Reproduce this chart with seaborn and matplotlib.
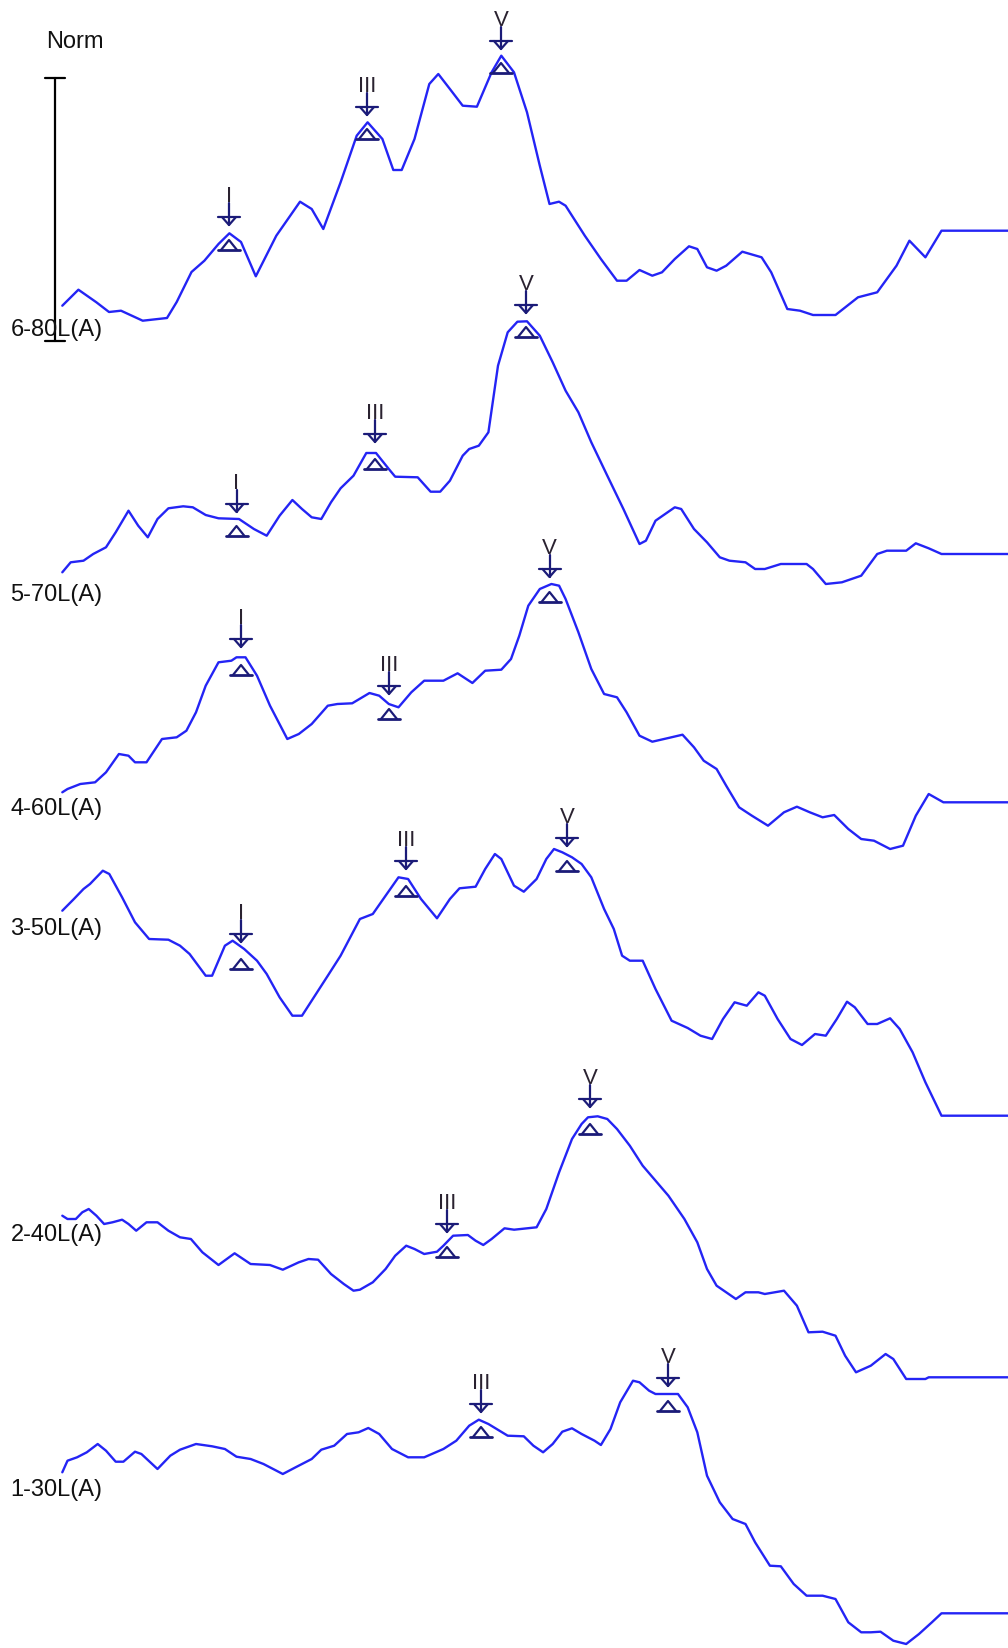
import matplotlib

matplotlib.use("Agg")
import matplotlib.pyplot as plt
import seaborn as sns

# Stacked ABR waveforms, drawn in screen units (x = latency axis, y grows downward)
trace_labels = ["6-80L(A)", "5-70L(A)", "4-60L(A)", "3-50L(A)", "2-40L(A)", "1-30L(A)"]
label_baselines = [336, 601, 815, 935, 1241, 1496]

t6_x = [62.3, 78.4, 96.4, 109, 121, 142.7, 167, 176.7, 191.5, 204.4, 218.5, 229.4, 241, 255.8,
        276.3, 300, 311.7, 323.3, 340.6, 356.7, 367.6, 382.4, 393.3, 401.7, 414.5, 429.3, 438.3,
        449.9, 462.7, 476.9, 491.6, 501.3, 514, 527, 539.8, 549.5, 559, 565.6, 584.8, 600.9, 617,
        626.6, 639.5, 652.3, 662, 674.8, 689, 697.3, 707, 716.6, 726.2, 742.3, 761.6, 771.2, 787.3,
        800, 813, 835.5, 858, 877.2, 896.5, 909.4, 925.4, 941.5, 1008]
t6_y = [306.7, 290.7, 303.3, 313, 311.7, 321.7, 319, 303, 273, 261.7, 245, 234.3, 243, 277.3,
        236.7, 202.7, 210, 230, 183.3, 136.7, 123.3, 140, 171, 171, 140, 85, 75,
        90, 106.7, 107.7, 73.3, 56.7, 73.3, 113.3, 166.7, 205, 202.7, 206.7, 236.7, 260, 281.7,
        281.7, 271, 276.7, 273.3, 260, 247.3, 250, 268.3, 271.7, 266.7, 252.7, 258.3, 273.3, 310,
        311.7, 316, 316, 298.3, 293.3, 266.7, 241.7, 258.3, 231.7, 231.7]

t5_x = [62.3, 70.7, 83.5, 93.2, 106, 115.7, 128.5, 138.2, 147.8, 157.5, 168.4, 183.2, 192.8, 205.7,
        218.5, 239, 253.9, 266.7, 279.6, 292.4, 302, 311.7, 321.3, 331, 340.6, 353.5, 366.3, 376,
        388.8, 395.2, 417.7, 430.6, 440.2, 449.9, 462.7, 469.2, 478.8, 488.4, 498, 507.7, 517.4,
        527, 539.8, 552.7, 565.6, 578.4, 591.3, 607.3, 623.4, 639.5, 645.9, 655.5, 674.8, 681.2,
        694, 707, 719.8, 729.4, 745.5, 755.1, 764.8, 780.8, 806.6, 813, 825.8, 841.9, 861.2, 877.2,
        886.9, 906.2, 915.8, 928.7, 941.5, 1008]
t5_y = [573.3, 563.3, 561.7, 555, 548.3, 533.3, 511.7, 526.7, 538.3, 520, 509.3, 507.3, 508.3, 516,
        519.3, 520, 530, 536.7, 516.7, 501, 510, 518.3, 520, 503.3, 489.3, 476.7, 454, 454,
        470, 477.7, 478.3, 492.7, 492.7, 481.7, 456.7, 450, 446.7, 433.3, 366.7, 333.3, 322.7,
        322.3, 336.7, 363.3, 391.7, 413.3, 443.3, 476.7, 510, 545, 541.7, 521.7, 508.3, 510,
        530, 543.3, 558.3, 561.7, 563.3, 570, 570, 565, 565, 570, 585, 583.3, 576.7, 555,
        551.7, 551.7, 544.3, 549.3, 555, 555]

t4_x = [62.3, 67.5, 80.3, 95.1, 106, 118.9, 128.5, 135, 146.5, 162, 176.7, 186.4, 196, 205.7, 218.5,
        231.4, 236.5, 245.5, 257, 270, 287.3, 298.8, 311.7, 327.8, 337.4, 352.2, 369.5, 379.2,
        388.8, 398.5, 411.3, 424.2, 443.4, 457.6, 472.4, 485.2, 501.3, 511, 519.3, 528.3, 539.8,
        551.4, 559.1, 565.6, 578.4, 591.3, 604.1, 617, 626.6, 639.5, 652.3, 668.4, 682.5, 694,
        703.7, 716.6, 726.2, 739.1, 751.9, 768, 784, 796.9, 809.8, 822.6, 834.2, 848.3, 861.2, 874,
        890.1, 903, 915.8, 928.7, 943.4, 1008]
t4_y = [793.3, 790, 785, 783.3, 773.3, 755, 756.7, 763.3, 763.3, 740, 738.3, 731.7, 713.3, 686.7, 663.3,
        661.7, 658.3, 658.3, 676.7, 706.7, 740, 735, 725, 706.7, 705, 704.3, 694, 696.7,
        705, 708.3, 693.3, 681.7, 681.7, 674.3, 684, 671.7, 670.7, 660, 636.7, 606.7, 590,
        585, 586.7, 600, 633.3, 670, 695, 698.3, 713.3, 736.7, 742.7, 739, 735.7, 748.3,
        761.7, 770, 786.7, 808.3, 816.7, 826.7, 813.3, 807.7, 813.3, 818.3, 816, 830, 840, 841.7,
        850, 846.7, 816.7, 795, 803.3, 803.3]

t3_x = [62.3, 73.9, 83.5, 90, 102.8, 109.3, 122.1, 135, 149.1, 168.4, 180, 189.6, 205.7, 212.1,
        224.9, 232.6, 244.2, 257, 266.7, 279.6, 292.4, 302, 314.9, 327.8, 340.6, 359.9, 372.8,
        385.6, 398.5, 408.1, 421, 437, 449.9, 459.5, 475.6, 485.2, 494.9, 501.3, 514, 523.8,
        536.6, 546.3, 554, 562.3, 572, 581.6, 591.3, 604.1, 613.8, 622.1, 629.8, 642.7, 655.5,
        671.6, 687.7, 700.5, 712.1, 723, 734.6, 746.8, 758.4, 764.8, 777.6, 790.5, 802, 815,
        825.8, 836.8, 847, 854.8, 867.6, 877.2, 890.1, 899.7, 912.6, 925.4, 941.5, 1008]
t3_y = [911.7, 900, 890, 885, 871.7, 875, 898.3, 923.3, 940, 940.7, 946.7, 955, 976.7, 976.7,
        946.7, 941.7, 950, 961.7, 975, 998.3, 1016.7, 1016.7, 996.7, 976.7, 956.7, 920, 915,
        896.7, 878.3, 880, 900, 919.3, 900, 889.3, 887.7, 870, 855, 860, 886.7, 892.7,
        880, 860, 850, 853.3, 858.3, 865, 878.3, 910, 930, 956.7, 961.7, 961.7, 990,
        1021.7, 1029, 1036.7, 1040, 1020, 1003.3, 1006.7, 993.3, 996.7, 1020, 1040, 1046, 1035,
        1036.7, 1020, 1002.7, 1008.3, 1025, 1025, 1019.3, 1030, 1053.3, 1083.3, 1116.7, 1116.7]

t2_x = [62.3, 67.5, 75.8, 82.3, 88.7, 96.4, 104.1, 112.5, 122.1, 128.5, 136.2, 146.5, 157.5, 168.4,
        180, 190.9, 202.4, 218.5, 234.6, 250.6, 269.9, 282.8, 298.8, 308.5, 318.1, 331, 343.8,
        353.5, 359.9, 372.8, 385.6, 395.2, 406.2, 414.5, 424.2, 437, 443.4, 453.1, 467.9, 475.6,
        483.3, 491.6, 504.5, 514.1, 536.6, 546.3, 559.1, 572, 581.6, 588, 597.7, 607.3, 617,
        629.8, 642.7, 668.4, 684.4, 697.3, 707, 716.6, 726.2, 735.9, 745.5, 758.4, 764.8, 784,
        796.9, 808.5, 822.6, 835.5, 845.1, 856, 870.8, 885.6, 893.3, 906.2, 925.4, 928.7, 1008]
t2_y = [1216.7, 1220, 1220, 1213.3, 1210, 1216.7, 1225, 1223.3, 1220.7, 1225, 1231.7, 1223.3, 1223.3, 1231.7,
        1238.3, 1240, 1253.3, 1266, 1254.3, 1265, 1266, 1270.7, 1263.3, 1260, 1260.7, 1275, 1285,
        1291.7, 1290.7, 1283.3, 1270, 1256.7, 1246.7, 1250, 1255, 1252.7, 1246.7, 1236.7, 1236, 1241.7,
        1246, 1240, 1229.3, 1230.7, 1228.3, 1210, 1173.3, 1140, 1125, 1118.3, 1117.3, 1120, 1130,
        1146.7, 1166.7, 1196.7, 1220, 1243.3, 1270, 1286.7, 1293.3, 1300, 1293.3, 1293.3, 1295, 1291.7,
        1306.7, 1333.3, 1332.7, 1336.7, 1356.7, 1373.3, 1366.7, 1355, 1360, 1380, 1380, 1378.3, 1378.3]

t1_x = [62.3, 67.5, 77.1, 86.8, 97.7, 106, 115.7, 123.4, 135, 141.4, 157.5, 170.3, 180, 196, 212.1,
        224.9, 236.5, 250.6, 263.5, 282.8, 295.6, 311.7, 321.3, 334.2, 347, 358.6, 368.3, 379.2,
        392, 408.1, 424.2, 443.4, 456.3, 469.2, 478.8, 488.4, 507.7, 523.8, 533.4, 543.1, 552.7,
        562.3, 572, 581.6, 594.5, 600.9, 610.5, 620.2, 633, 639.5, 649.1, 655.5, 678, 687.7,
        697.3, 707, 719.8, 732.6, 745.5, 755.1, 769.9, 780.8, 793.7, 806.6, 822.6, 835.5, 848.3,
        861.2, 870.8, 880.5, 893.3, 906.2, 919, 931.9, 941.5, 1008]
t1_y = [1473.3, 1461.7, 1458.3, 1453.3, 1445, 1451.7, 1462.7, 1462.7, 1452.7, 1455, 1470, 1456.7, 1450.7, 1445, 1447.3,
        1450, 1457.7, 1460, 1465, 1475, 1468.3, 1460, 1450.7, 1446.7, 1435, 1433.3, 1429, 1435,
        1450, 1458.3, 1458.3, 1450, 1441.7, 1426.7, 1420.7, 1425, 1436.7, 1437.3, 1446.7, 1453.3, 1445,
        1432.7, 1429.3, 1435, 1441.7, 1446, 1430, 1403.3, 1381.7, 1383.3, 1391.7, 1395, 1395, 1408.3,
        1433.3, 1476.7, 1503.3, 1520, 1525, 1543.3, 1566.7, 1567.3, 1585, 1596.7, 1596.7, 1600, 1623.3,
        1633.3, 1633.3, 1632.7, 1641.7, 1645, 1635, 1623.3, 1614.3, 1614.3]

traces_x = [t6_x, t5_x, t4_x, t3_x, t2_x, t1_x]
traces_y = [t6_y, t5_y, t4_y, t3_y, t2_y, t1_y]

# peak picks: wave name, latency, arrow tip, triangle base
peak_names = ["I", "III", "V", "I", "III", "V", "I", "III", "V", "I", "III", "V", "III", "V", "III", "V"]
peak_x = [229, 367, 501, 236.5, 375, 526, 241, 389, 549.5, 241, 406, 567, 447, 590, 481, 668]
peak_tip = [226, 116, 50, 513, 443, 314, 648, 695, 578, 943, 870, 847, 1233, 1108, 1413, 1387]
peak_base = [251, 140, 74, 537, 470, 338, 676, 720, 603, 970, 897, 872, 1258, 1135, 1438, 1412]

# amplitude scale bar
bar_x = 55
bar_top = 79
bar_bottom = 342

sns.set_theme(style="white")
plt.rcParams["font.family"] = ["Liberation Sans", "DejaVu Sans"]

wave_color = "#2424f5"
mark_color = "#1b1b78"

fig = plt.figure(figsize=(10.08, 16.49), dpi=100)
ax = fig.add_axes([0, 0, 1, 1])

for xs, ys in zip(traces_x, traces_y):
    sns.lineplot(x=xs, y=ys, ax=ax, color=wave_color, lw=1.7, estimator=None, sort=False)

for name, x, tip, base in zip(peak_names, peak_x, peak_tip, peak_base):
    # arrow from above
    ax.plot([x, x], [tip - 22, tip], color=mark_color, lw=1.6)
    ax.plot([x - 11, x + 11], [tip - 8, tip - 8], color=mark_color, lw=1.6)
    ax.plot([x - 7, x, x + 7], [tip - 8, tip, tip - 8], color=mark_color, lw=1.6)
    # triangle from below
    ax.plot([x - 8, x, x + 8], [base, base - 10, base], color=mark_color, lw=1.6)
    ax.plot([x - 11, x + 11], [base, base], color=mark_color, lw=2.0)
    ax.text(x, tip - 24, name, ha="center", va="baseline", fontsize=16,
            color="#2a2230", fontweight="medium")

for lab, yb in zip(trace_labels, label_baselines):
    ax.text(10.5, yb, lab, ha="left", va="baseline", fontsize=17, color="#111111")

ax.text(46, 48, "Norm", ha="left", va="baseline", fontsize=17, color="#111111")
ax.plot([bar_x, bar_x], [bar_top, bar_bottom], color="black", lw=1.6)
ax.plot([bar_x - 10, bar_x + 10], [bar_top, bar_top], color="black", lw=1.6)
ax.plot([bar_x - 10, bar_x + 10], [bar_bottom, bar_bottom], color="black", lw=1.6)

ax.set_xlim(0, 1008)
ax.set_ylim(1649, 0)
ax.axis("off")

fig.savefig("out.png", dpi=100, facecolor="white")
